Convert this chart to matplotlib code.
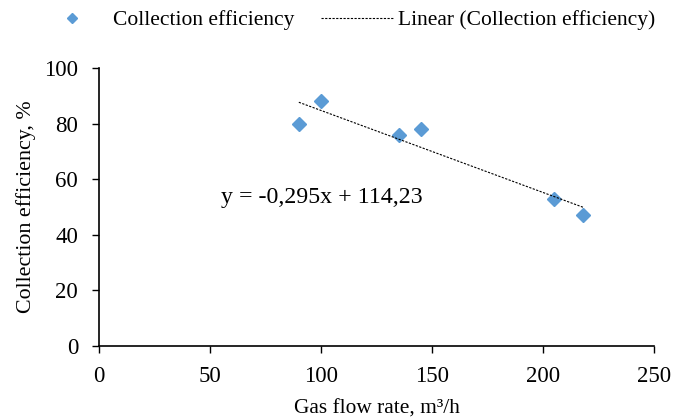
import matplotlib
matplotlib.use("Agg")
import matplotlib.pyplot as plt
import numpy as np

plt.rcParams['font.family'] = ['Liberation Serif', 'DejaVu Serif']

flow = [90, 100, 135, 145, 205, 218]
eff = [80, 88, 76, 78, 53, 47]
slope, intercept = -0.295, 114.23
xticks = [0, 50, 100, 150, 200, 250]
yticks = [0, 20, 40, 60, 80, 100]

fig = plt.figure(figsize=(6.75, 4.19), dpi=100)
ax = fig.add_axes([0.1467, 0.1742, 0.8222, 0.6635])

ax.plot(flow, eff, linestyle='none', marker='D', markersize=7,
        color='#5B9BD5', label='Collection efficiency')
xt = np.array([min(flow), max(flow)])
ax.plot(xt, slope * xt + intercept, linestyle=(0, (2, 1.3)), color='black',
        linewidth=0.8, label='Linear (Collection efficiency)')

ax.set_xlim(0, 250)
ax.set_ylim(0, 100)
ax.set_xticks(xticks)
ax.set_yticks(yticks)
ax.tick_params(axis='both', direction='out', length=5, width=1, labelsize=16.5)
ax.tick_params(axis='x', pad=9.5)
ax.tick_params(axis='y', pad=10)
for s in ['top', 'right']:
    ax.spines[s].set_visible(False)
for s in ['left', 'bottom']:
    ax.spines[s].set_linewidth(1.2)

ax.set_xlabel('Gas flow rate, m³/h', fontsize=15.4, labelpad=9)
ax.set_ylabel('Collection efficiency, %', fontsize=15.8, labelpad=6)

ax.text(55, 51.4, 'y = -0,295x + 114,23', fontsize=17.2, va='baseline', ha='left')

fig.legend(loc='center', bbox_to_anchor=(0.512, 0.952), ncol=2, frameon=False,
           fontsize=15.5, handlelength=3.35, columnspacing=1.25, handletextpad=0.2,
           markerscale=0.8, borderpad=0, borderaxespad=0)

fig.savefig('out.png', dpi=100)
